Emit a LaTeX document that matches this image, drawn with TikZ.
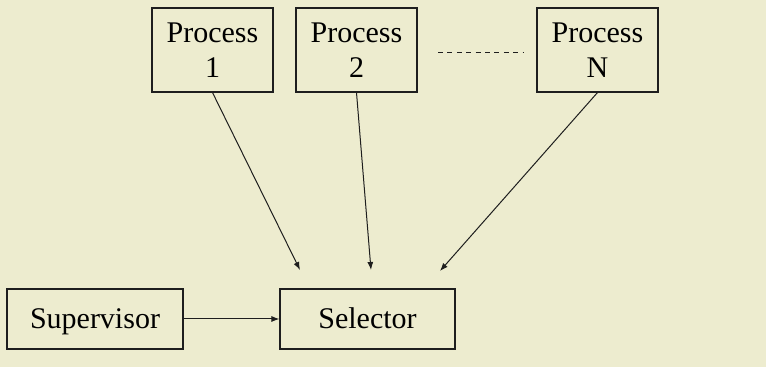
\documentclass[tikz,border=0pt]{standalone}
\usepackage{fontspec}
\setmainfont{Liberation Serif}
\usetikzlibrary{arrows.meta}
\definecolor{paper}{RGB}{237,236,207}
\definecolor{ink}{RGB}{30,30,30}

\begin{document}
\begin{tikzpicture}[x=0.5pt, y=-0.5pt,
  box/.style={draw=ink, line width=0.55pt, inner sep=0pt, align=center,
              font=\fontsize{15}{17.5}\selectfont},
  procbox/.style={box, minimum width=60.5pt, minimum height=42pt},
  flatbox/.style={box, text height=12pt, text depth=2pt},
  arr/.style={-{Latex[length=4pt,width=3pt]}, draw=ink, line width=0.5pt}]

  % Background
  \fill[paper] (0,0) rectangle (766,367);
  \useasboundingbox (0,0) rectangle (766,367);

  %---------------------------------------
  % Processes
  %---------------------------------------
  \node[procbox] (p1) at (212.5,50) {Process\\1};
  \node[procbox] (p2) at (356.5,50) {Process\\2};
  \node[procbox] (pN) at (597.5,50) {Process\\N};

  % dots between 2 and N
  \coordinate (dl) at (438,53);
  \coordinate (dr) at (523,53);
  \draw[ink, line width=0.5pt, dash pattern=on 2.5pt off 2.2pt] (dl) -- (dr);

  %---------------------------------------
  % Supervisor and selector
  %---------------------------------------
  \node[flatbox, minimum width=88pt, minimum height=30pt] (sup) at (95,319) {Supervisor};
  \node[flatbox, minimum width=87.5pt, minimum height=30pt] (sel) at (367.5,319) {Selector};

  % Arrow heads stop above the selector
  \coordinate (in1) at (300,270);
  \coordinate (in2) at (371,270);
  \coordinate (inN) at (440,271);

  \draw[arr] (p1.south) -- (in1);
  \draw[arr] (p2.south) -- (in2);
  \draw[arr] (pN.south) -- (inN);
  \draw[arr] (sup.east) -- (sel.west);

\end{tikzpicture}
\end{document}
